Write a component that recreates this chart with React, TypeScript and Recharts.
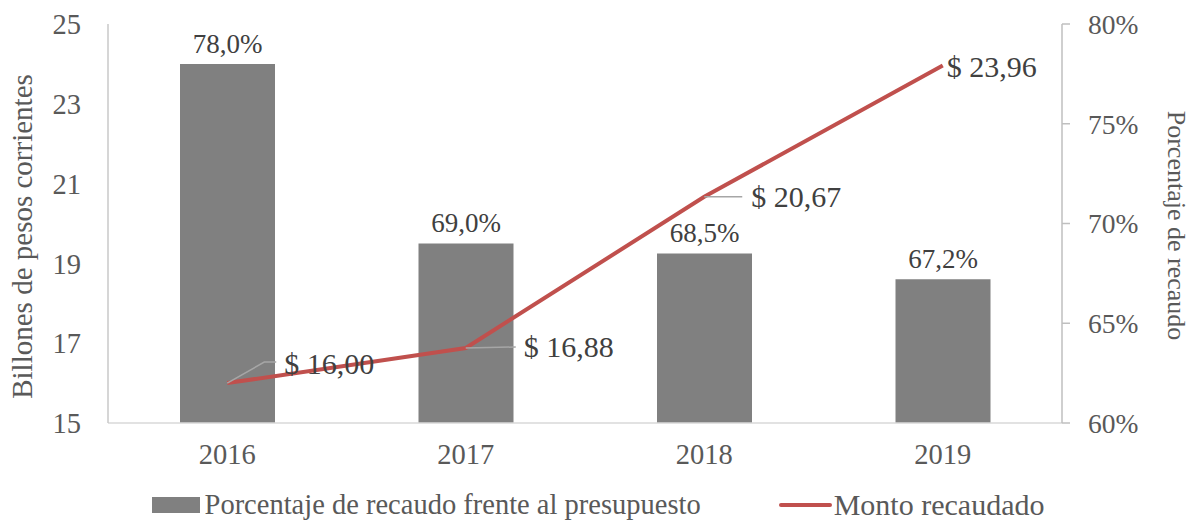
import { ComposedChart, Bar, Line, XAxis, YAxis, Legend, LabelList, Label } from "recharts"

const years = ["2016", "2017", "2018", "2019"]
const porcentaje = [78.0, 69.0, 68.5, 67.2]
const monto = [16.0, 16.88, 20.67, 23.96]
const leftTicks = [15, 17, 19, 21, 23, 25]
const rightTicks = [60, 65, 70, 75, 80]

const data = years.map((year, i) => ({ year, porcentaje: porcentaje[i], monto: monto[i] }))

const FONT = '"Liberation Serif", "Times New Roman", serif'
const GRAY_TEXT = "#595959"
const LABEL_TEXT = "#404040"
const BAR_COLOR = "#808080"
const LINE_COLOR = "#C0504D"

// where each "Monto" label sits relative to its point, plus its leader line
const montoLabelPlacement = [
  { dx: 57, dy: -20, leader: [[37, -21], [49, -21]] },
  { dx: 58, dy: -1, leader: [[50, -1]] },
  { dx: 47, dy: 0, leader: [[38, 0]] },
  { dx: 4, dy: 1, leader: [] as number[][] },
]

const renderMontoLabel = (props: any) => {
  const { x, y, value, index } = props
  const p = montoLabelPlacement[index] || { dx: 8, dy: 0, leader: [] }
  const pts = [[0, 0], ...p.leader].map(([a, b]) => `${x + a},${y + b}`).join(" ")
  return (
    <g>
      {p.leader.length > 0 && <polyline points={pts} fill="none" stroke="#a6a6a6" strokeWidth={1.5} />}
      <text
        x={x + p.dx}
        y={y + p.dy}
        dominantBaseline="central"
        fontFamily={FONT}
        fontSize={30}
        fill={LABEL_TEXT}
      >
        {`$ ${Number(value).toFixed(2).replace(".", ",")}`}
      </text>
    </g>
  )
}

const renderBarLabel = (props: any) => {
  const { x, y, width, value } = props
  return (
    <text x={x + width / 2} y={y - 11} textAnchor="middle" fontFamily={FONT} fontSize={27} fill={LABEL_TEXT}>
      {`${Number(value).toFixed(1).replace(".", ",")}%`}
    </text>
  )
}

const renderLegend = () => (
  <div
    style={{
      display: "flex",
      justifyContent: "center",
      alignItems: "center",
      height: 47,
      fontFamily: FONT,
      fontSize: 28.5,
      color: GRAY_TEXT,
      paddingTop: 16,
      boxSizing: "border-box",
    }}
  >
    <span style={{ display: "inline-block", width: 48, height: 16, background: BAR_COLOR, marginRight: 5 }} />
    <span style={{ marginRight: 78 }}>Porcentaje de recaudo frente al presupuesto</span>
    <span style={{ display: "inline-block", width: 53, height: 4, borderRadius: 2, background: LINE_COLOR, marginRight: 2 }} />
    <span style={{ fontSize: 30 }}>Monto recaudado</span>
  </div>
)

export default function App() {
  return (
    <div style={{ position: "absolute", left: 0, top: 0 }}>
      <ComposedChart width={1196} height={520} data={data} margin={{ top: 24, right: 0, bottom: 0, left: 0 }}>
        <XAxis
          dataKey="year"
          height={50}
          axisLine={{ stroke: "#d9d9d9", strokeWidth: 1.5 }}
          tickLine={false}
          tickSize={0}
          tickMargin={21}
          tick={{ fill: GRAY_TEXT, fontSize: 28.5, fontFamily: FONT }}
        />
        <YAxis
          yAxisId="left"
          orientation="left"
          width={108}
          domain={[15, 25]}
          ticks={leftTicks}
          interval={0}
          axisLine={{ stroke: "#c8c8c8", strokeWidth: 1.5 }}
          tickLine={false}
          tickSize={0}
          tickMargin={27}
          tick={{ fill: GRAY_TEXT, fontSize: 28.5, fontFamily: FONT }}
        >
          <Label
            content={(p: any) => {
              const vb = p.viewBox
              const cy = vb.y + vb.height / 2 + 13
              return (
                <text
                  x={22}
                  y={cy}
                  transform={`rotate(-90, 22, ${cy})`}
                  textAnchor="middle"
                  dominantBaseline="central"
                  fontFamily={FONT}
                  fontSize={29}
                  fill={GRAY_TEXT}
                >
                  Billones de pesos corrientes
                </text>
              )
            }}
          />
        </YAxis>
        <YAxis
          yAxisId="right"
          orientation="right"
          width={134}
          domain={[60, 80]}
          ticks={rightTicks}
          interval={0}
          tickFormatter={(v: number) => `${v}%`}
          axisLine={{ stroke: "#bfbfbf", strokeWidth: 1.5 }}
          tickLine={{ stroke: "#bfbfbf", strokeWidth: 1.5 }}
          tickSize={8}
          tickMargin={18}
          tick={{ fill: GRAY_TEXT, fontSize: 27.5, fontFamily: FONT }}
        >
          <Label
            content={(p: any) => {
              const vb = p.viewBox
              const cy = vb.y + vb.height / 2 + 2
              return (
                <text
                  x={1176}
                  y={cy}
                  transform={`rotate(90, 1176, ${cy})`}
                  textAnchor="middle"
                  dominantBaseline="central"
                  fontFamily={FONT}
                  fontSize={26}
                  fill={GRAY_TEXT}
                >
                  Porcentaje de recaudo
                </text>
              )
            }}
          />
        </YAxis>
        <Legend verticalAlign="bottom" height={47} content={renderLegend} />
        <Bar yAxisId="right" dataKey="porcentaje" barSize={95} fill={BAR_COLOR} isAnimationActive={false}>
          <LabelList dataKey="porcentaje" content={renderBarLabel} />
        </Bar>
        <Line
          yAxisId="left"
          dataKey="monto"
          type="linear"
          stroke={LINE_COLOR}
          strokeWidth={4}
          dot={false}
          isAnimationActive={false}
        >
          <LabelList dataKey="monto" content={renderMontoLabel} />
        </Line>
      </ComposedChart>
    </div>
  )
}
